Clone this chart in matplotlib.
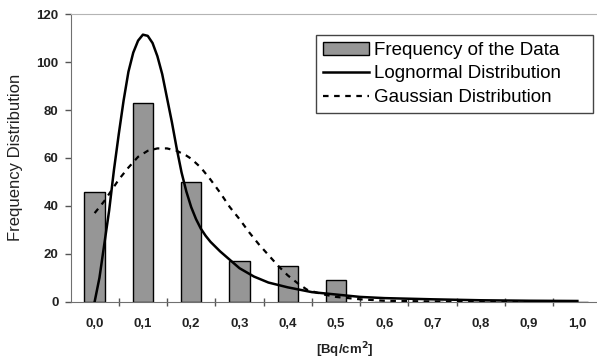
import matplotlib
matplotlib.use("Agg")
import matplotlib.pyplot as plt
import numpy as np

plt.rcParams['font.family'] = ['Liberation Sans', 'DejaVu Sans']

# bin centres [Bq/cm2] and counts
bins = [0.0, 0.1, 0.2, 0.3, 0.4, 0.5, 0.6, 0.7, 0.8, 0.9, 1.0]
bin_labels = ['0,0', '0,1', '0,2', '0,3', '0,4', '0,5', '0,6', '0,7', '0,8', '0,9', '1,0']
freq = [46, 83, 50, 17, 15, 9, 0, 0, 0, 0, 0]

# lognormal fit
logn_x = [0.0, 0.01, 0.02, 0.03, 0.04, 0.05, 0.06, 0.07, 0.08, 0.09, 0.10, 0.11,
          0.12, 0.13, 0.14, 0.15, 0.16, 0.17, 0.18, 0.19, 0.20, 0.21, 0.22, 0.23,
          0.24, 0.26, 0.28, 0.30, 0.33, 0.36, 0.40, 0.45, 0.50, 0.55, 0.60, 0.70,
          0.80, 0.90, 1.00]
logn_y = [0, 10, 24, 38, 55, 70, 84, 96, 104, 109, 111.5, 111, 108, 102.5, 95,
          85, 75, 64, 54, 46, 39.5, 34.5, 30.5, 27.5, 25, 21, 17.5, 14, 10.5, 8,
          6, 4, 3, 2, 1.5, 1, 0.6, 0.4, 0.3]

# gaussian fit
gauss_x = [0.0, 0.02, 0.05, 0.07, 0.09, 0.11, 0.13, 0.15, 0.17, 0.19, 0.20, 0.22,
           0.24, 0.26, 0.28, 0.30, 0.32, 0.34, 0.36, 0.38, 0.40, 0.42, 0.44, 0.47,
           0.50, 0.55, 0.60, 0.70, 0.80, 1.00]
gauss_y = [37, 42, 51, 56, 60.5, 63, 64, 64, 63, 61, 59.7, 56, 51, 45.5, 39.5,
           34.5, 29, 24, 19.5, 15, 11, 7.8, 5, 3.2, 2, 1, 0.4, 0.1, 0, 0]

W, H = 597, 364
fig = plt.figure(figsize=(W / 100, H / 100), dpi=100)
ax = fig.add_axes([70.5 / W, 62.3 / H, 531 / W, 287.4 / H])

bars = ax.bar(bins, freq, width=0.042, color='#969696', edgecolor='black', linewidth=1,
              label='Frequency of the Data', zorder=2)
ln1, = ax.plot(logn_x, logn_y, color='black', lw=1.8, label='Lognormal Distribution', zorder=3)
ln2, = ax.plot(gauss_x, gauss_y, color='black', lw=1.6, linestyle=(0, (2.5, 2.5)),
               label='Gaussian Distribution', zorder=3)

ax.set_xlim(-0.05, 1.05)
ax.set_ylim(0, 120)
ax.set_xticks(bins, bin_labels)
ax.set_xticks(np.array(bins) + 0.05, minor=True)
ax.tick_params(axis='x', which='major', length=0, pad=12)
ax.tick_params(axis='x', which='minor', direction='inout', length=6, width=1, color='#555555')
ax.set_yticks([0, 20, 40, 60, 80, 100, 120])
ax.tick_params(axis='y', direction='out', length=4.5, width=1, color='#555555', pad=4)
for lab in ax.get_xticklabels() + ax.get_yticklabels():
    lab.set_fontweight('bold')
    lab.set_fontsize(9.5)
    lab.set_color('#222222')

ax.spines['right'].set_visible(False)
ax.spines['top'].set_color('#b4b4b4')
ax.spines['left'].set_color('#707070')
ax.spines['bottom'].set_color('#707070')

fig.text(16 / W, 1 - 157 / H, 'Frequency Distribution', rotation=90,
         ha='center', va='center', fontsize=12, color='#222222')
fig.text(345 / W, 1 - 350 / H, r'[Bq/cm$^\mathbf{2}$]', ha='center', va='center',
         fontsize=9.5, fontweight='bold', color='#222222')

leg = ax.legend([bars, ln1, ln2],
                ['Frequency of the Data', 'Lognormal Distribution', 'Gaussian Distribution'],
                loc='upper left', bbox_to_anchor=(316 / W, 1 - 108 / H, 277 / W, 73 / H),
                bbox_transform=fig.transFigure, mode='expand', borderaxespad=0,
                fontsize=13.5, fancybox=False, framealpha=1, edgecolor='#444444',
                handlelength=2.5, handletextpad=0.25, labelspacing=0.35,
                borderpad=0.35)
leg.get_frame().set_linewidth(1)

fig.savefig('out.png', dpi=100)
